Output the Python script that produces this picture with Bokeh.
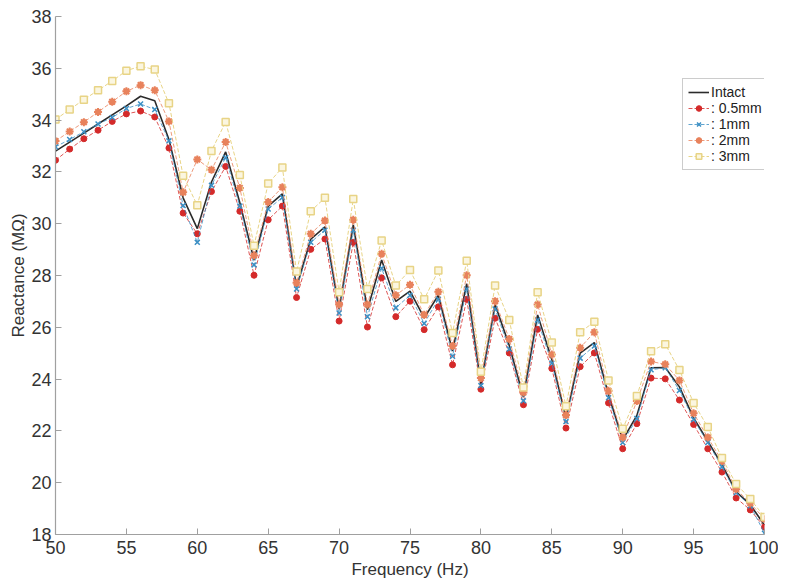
from bokeh.plotting import figure
from bokeh.models import Range1d, FixedTicker, Legend
from bokeh.embed import file_html
from bokeh.resources import INLINE

freq = list(range(50, 101))

intact = [32.80, 33.15, 33.50, 33.85, 34.20, 34.55, 34.92, 34.75, 33.25, 31.00,
          29.81, 31.61, 32.77, 30.81, 28.60, 30.68, 31.15, 27.55, 29.40, 29.88,
          26.70, 29.95, 26.68, 28.60, 27.00, 27.40, 26.36, 27.24, 25.08, 27.68,
          23.80, 26.88, 25.30, 23.30, 26.48, 24.76, 22.50, 25.00, 25.41, 23.40,
          21.65, 22.60, 24.44, 24.45, 23.70, 22.50, 21.60, 20.70, 19.65, 19.15,
          18.36]
d05 = [32.45, 32.88, 33.28, 33.61, 33.95, 34.24, 34.35, 34.12, 32.92, 30.41,
       29.61, 31.24, 32.21, 30.48, 28.01, 30.15, 30.68, 27.15, 29.01, 29.41,
       26.24, 29.28, 26.01, 27.91, 26.41, 27.01, 25.91, 26.79, 24.55, 27.08,
       23.61, 26.35, 25.01, 23.01, 25.92, 24.41, 22.11, 24.48, 25.01, 23.08,
       21.31, 22.28, 24.04, 24.01, 23.19, 22.25, 21.31, 20.41, 19.41, 18.95,
       18.28]
d1 = [32.97, 33.25, 33.55, 33.85, 34.10, 34.45, 34.62, 34.41, 33.20, 30.70,
      29.28, 31.48, 32.55, 30.68, 28.41, 30.57, 31.01, 27.48, 29.28, 29.75,
      26.55, 29.75, 26.41, 28.28, 26.75, 27.24, 26.15, 27.08, 24.88, 27.48,
      23.75, 26.71, 25.16, 23.16, 26.28, 24.61, 22.36, 24.81, 25.28, 23.28,
      21.55, 22.48, 24.36, 24.44, 23.56, 22.44, 21.55, 20.61, 19.61, 19.11,
      18.05]
d2 = [33.19, 33.56, 33.92, 34.31, 34.71, 35.11, 35.35, 35.15, 33.95, 31.21,
      32.48, 32.08, 33.15, 31.38, 28.77, 30.84, 31.41, 27.72, 29.61, 30.12,
      26.88, 30.15, 26.88, 28.84, 27.24, 27.64, 26.48, 27.37, 25.28, 28.01,
      24.04, 27.01, 25.55, 23.48, 26.88, 24.95, 22.61, 25.21, 25.81, 23.55,
      21.75, 23.15, 24.68, 24.57, 23.95, 22.68, 21.75, 20.84, 19.75, 19.21,
      18.60]
d3 = [34.02, 34.41, 34.79, 35.15, 35.51, 35.91, 36.08, 35.95, 34.65, 31.85,
      30.71, 32.81, 33.93, 31.88, 29.15, 31.55, 32.17, 28.15, 30.48, 31.00,
      27.35, 30.95, 27.48, 29.35, 27.61, 28.21, 27.08, 28.19, 25.78, 28.57,
      24.28, 27.61, 26.28, 23.68, 27.35, 25.41, 22.95, 25.81, 26.21, 23.95,
      22.08, 23.35, 25.08, 25.35, 24.35, 23.08, 22.15, 20.95, 19.95, 19.37,
      18.68]

x_ticks = [50, 55, 60, 65, 70, 75, 80, 85, 90, 95, 100]
y_ticks = [18, 20, 22, 24, 26, 28, 30, 32, 34, 36, 38]

FONT = "Liberation Sans, Arial, sans-serif"

p = figure(width=778, height=581, output_backend="svg", toolbar_location=None,
           x_range=Range1d(50, 100), y_range=Range1d(18, 38),
           min_border_left=55, min_border_right=14, min_border_top=16,
           min_border_bottom=46)
p.outline_line_color = None
p.xgrid.visible = False
p.ygrid.visible = False

for ax in (p.xaxis[0], p.yaxis[0]):
    ax.axis_line_color = "#a0a0a0"
    ax.axis_line_width = 1.2
    ax.major_tick_line_color = "#a0a0a0"
    ax.major_tick_in = 6
    ax.major_tick_out = 0
    ax.minor_tick_line_color = None
    ax.major_label_text_font = FONT
    ax.major_label_text_font_size = "18px"
    ax.major_label_text_color = "#333333"
    ax.axis_label_text_font = FONT
    ax.axis_label_text_font_size = "17px"
    ax.axis_label_text_font_style = "normal"
    ax.axis_label_text_color = "#333333"

p.xaxis.ticker = FixedTicker(ticks=x_ticks)
p.yaxis.ticker = FixedTicker(ticks=y_ticks)
p.xaxis.axis_label = "Frequency (Hz)"
p.yaxis.axis_label = "Reactance (MΩ)"
p.xaxis.major_label_standoff = 6
p.yaxis.major_label_standoff = 4
p.xaxis.axis_label_standoff = 3
p.yaxis.axis_label_standoff = 0

red = "#d42a2a"
blue = "#3b8fc4"
orange = "#e8825c"
yellow = "#e8d486"

items = []
r = p.line(freq, intact, line_color="#2b2b2b", line_width=1.6)
items.append(("Intact", [r]))

l1 = p.line(freq, d05, line_color=red, line_width=1, line_dash="4 2", line_alpha=0.8)
s1 = p.scatter(freq, d05, marker="circle", size=6, fill_color=red, line_color=red)
items.append((": 0.5mm", [l1, s1]))

l2 = p.line(freq, d1, line_color=blue, line_width=1, line_dash="4 2", line_alpha=0.8)
s2 = p.scatter(freq, d1, marker="x", size=7, line_color=blue, line_width=1.5)
items.append((": 1mm", [l2, s2]))

l3 = p.line(freq, d2, line_color=orange, line_width=1, line_dash="4 2", line_alpha=0.8)
s3 = p.scatter(freq, d2, marker="asterisk", size=8, line_color=orange, line_width=2)
s3b = p.scatter(freq, d2, marker="circle", size=5, fill_color=orange, line_color=orange, fill_alpha=0.7)
items.append((": 2mm", [l3, s3, s3b]))

l4 = p.line(freq, d3, line_color=yellow, line_width=1, line_dash="4 2")
s4 = p.scatter(freq, d3, marker="square", size=7, fill_color="#fbf6e0", line_color=yellow, line_width=1.5)
items.append((": 3mm", [l4, s4]))

legend = Legend(items=items, location=(627, 364))
legend.label_text_font = FONT
legend.label_text_font_size = "14px"
legend.label_text_color = "#222222"
legend.glyph_width = 21
legend.glyph_height = 14
legend.label_standoff = 2
legend.spacing = 0
legend.padding = 5
legend.margin = 0
legend.label_height = 14
legend.border_line_color = "#999999"
legend.border_line_width = 1
legend.background_fill_color = "white"
legend.background_fill_alpha = 1
p.add_layout(legend)

open("out.html", "w").write(file_html(p, INLINE))
